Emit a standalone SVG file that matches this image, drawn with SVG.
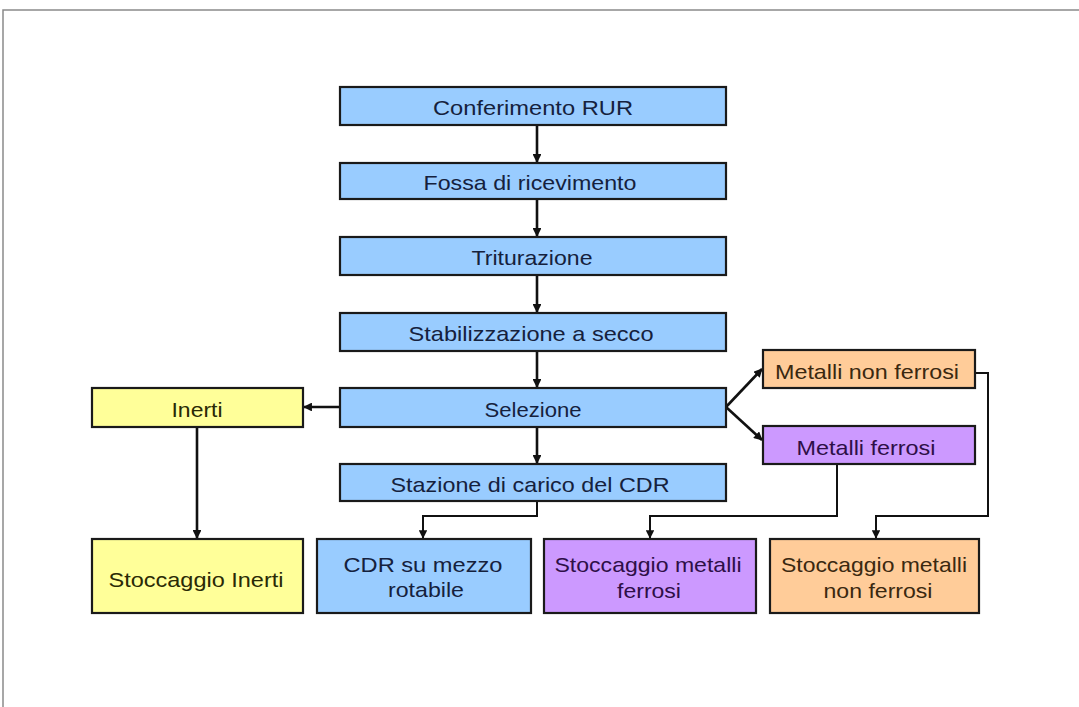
<svg xmlns="http://www.w3.org/2000/svg" width="1079" height="707" viewBox="0 0 1079 707">
<style>
.box{stroke:#1a1a1a;stroke-width:2.2}
.blue{fill:#99CCFF}
.yellow{fill:#FFFF99}
.purple{fill:#CC99FF}
.orange{fill:#FFCC99}
text{font-family:"Liberation Sans",Arial,sans-serif;font-size:21px;text-anchor:middle}
.tb{fill:#15213d}
.ty{fill:#2a2a05}
.tp{fill:#2e0f47}
.to{fill:#3a2810}
.conn{fill:none;stroke:#111;stroke-width:2.6}
.thin{fill:none;stroke:#111;stroke-width:2}
</style>
<defs>
<marker id="ah" viewBox="0 0 10 10" refX="9" refY="5" markerWidth="3.4" markerHeight="3.4" orient="auto" markerUnits="strokeWidth">
<path d="M0,0 L10,5 L0,10 z" fill="#111"/>
</marker>
<marker id="ah2" viewBox="0 0 10 10" refX="9" refY="5" markerWidth="4.3" markerHeight="4.3" orient="auto" markerUnits="strokeWidth">
<path d="M0,0 L10,5 L0,10 z" fill="#111"/>
</marker>
</defs>
<rect width="1079" height="707" fill="#fff"/>
<path d="M3,707 V10 H1079" fill="none" stroke="#8a8a8a" stroke-width="1.5"/>

<g id="connectors">
<path class="conn" d="M537,125 V162" marker-end="url(#ah)"/>
<path class="conn" d="M537,199 V236" marker-end="url(#ah)"/>
<path class="conn" d="M537,275 V312" marker-end="url(#ah)"/>
<path class="conn" d="M537,351 V387" marker-end="url(#ah)"/>
<path class="conn" d="M537,427 V463" marker-end="url(#ah)"/>
<path class="conn" d="M340,407 H304" marker-end="url(#ah)"/>
<path class="conn" d="M197,427 V538" marker-end="url(#ah)"/>
<path class="conn" d="M726,407 L762,369" marker-end="url(#ah)"/>
<path class="conn" d="M726,407 L762,440" marker-end="url(#ah)"/>
<path class="thin" d="M537,501 V516 H423 V538" marker-end="url(#ah2)"/>
<path class="thin" d="M837,465 V516 H650 V538" marker-end="url(#ah2)"/>
<path class="thin" d="M976,373 H988 V516 H876 V538" marker-end="url(#ah2)"/>
</g>

<g id="n-conferimento"><rect class="box blue" x="340" y="87" width="386" height="38"/><text class="tb" x="533" y="115" textLength="200" lengthAdjust="spacingAndGlyphs">Conferimento RUR</text></g>
<g id="n-fossa"><rect class="box blue" x="340" y="163" width="386" height="36"/><text class="tb" x="530" y="190" textLength="213" lengthAdjust="spacingAndGlyphs">Fossa di ricevimento</text></g>
<g id="n-triturazione"><rect class="box blue" x="340" y="237" width="386" height="38"/><text class="tb" x="532" y="265" textLength="121" lengthAdjust="spacingAndGlyphs">Triturazione</text></g>
<g id="n-stabilizzazione"><rect class="box blue" x="340" y="313" width="386" height="38"/><text class="tb" x="531" y="341" textLength="245" lengthAdjust="spacingAndGlyphs">Stabilizzazione a secco</text></g>
<g id="n-selezione"><rect class="box blue" x="340" y="388" width="386" height="39"/><text class="tb" x="533" y="417" textLength="97" lengthAdjust="spacingAndGlyphs">Selezione</text></g>
<g id="n-stazione"><rect class="box blue" x="340" y="464" width="386" height="37"/><text class="tb" x="530" y="492" textLength="279" lengthAdjust="spacingAndGlyphs">Stazione di carico del CDR</text></g>
<g id="n-inerti"><rect class="box yellow" x="92" y="388" width="211" height="39"/><text class="ty" x="197" y="417" textLength="51" lengthAdjust="spacingAndGlyphs">Inerti</text></g>
<g id="n-metalli-non-ferrosi"><rect class="box orange" x="763" y="350" width="212" height="38"/><text class="to" x="867" y="379" textLength="184" lengthAdjust="spacingAndGlyphs">Metalli non ferrosi</text></g>
<g id="n-metalli-ferrosi"><rect class="box purple" x="763" y="426" width="212" height="38"/><text class="tp" x="866" y="455" textLength="139" lengthAdjust="spacingAndGlyphs">Metalli ferrosi</text></g>
<g id="n-stoccaggio-inerti"><rect class="box yellow" x="92" y="539" width="211" height="74"/><text class="ty" x="196" y="587" textLength="175" lengthAdjust="spacingAndGlyphs">Stoccaggio Inerti</text></g>
<g id="n-cdr"><rect class="box blue" x="317" y="539" width="214" height="74"/><text class="tb" x="423" y="572" textLength="159" lengthAdjust="spacingAndGlyphs">CDR su mezzo</text><text class="tb" x="426" y="597" textLength="76" lengthAdjust="spacingAndGlyphs">rotabile</text></g>
<g id="n-stoccaggio-ferrosi"><rect class="box purple" x="544" y="539" width="212" height="74"/><text class="tp" x="648" y="572" textLength="187" lengthAdjust="spacingAndGlyphs">Stoccaggio metalli</text><text class="tp" x="649" y="598" textLength="64" lengthAdjust="spacingAndGlyphs">ferrosi</text></g>
<g id="n-stoccaggio-non-ferrosi"><rect class="box orange" x="770" y="539" width="209" height="74"/><text class="to" x="874" y="572" textLength="186" lengthAdjust="spacingAndGlyphs">Stoccaggio metalli</text><text class="to" x="878" y="598" textLength="109" lengthAdjust="spacingAndGlyphs">non ferrosi</text></g>
</svg>
